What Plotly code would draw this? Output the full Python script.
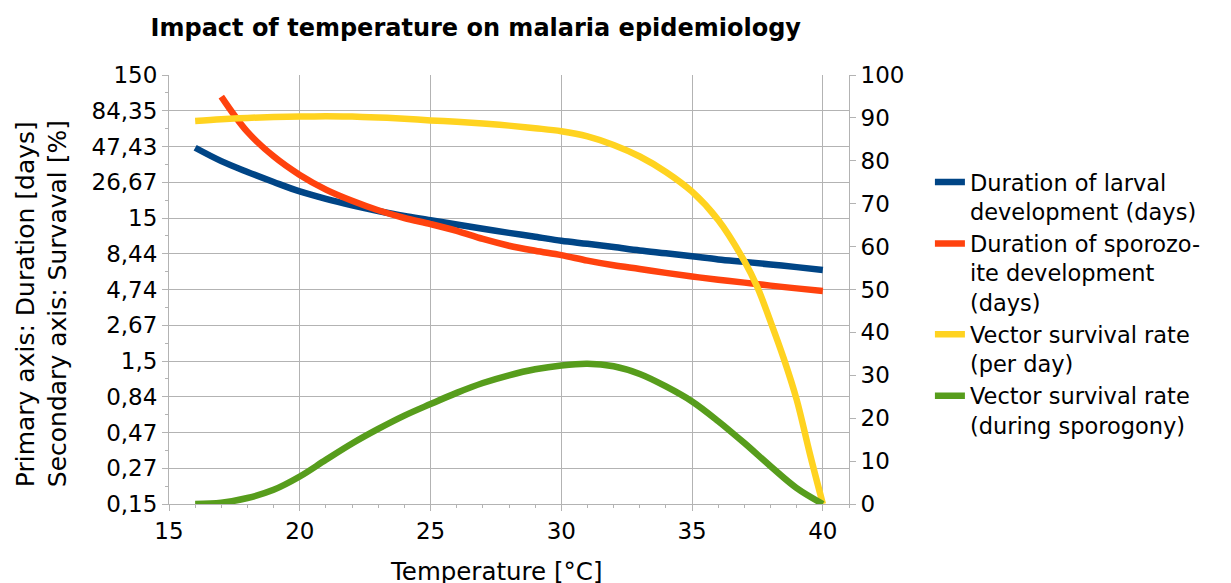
import plotly.graph_objects as go
from plotly.subplots import make_subplots

# temperatures (°C)
temps = list(range(16, 41))
sporo_temps = list(range(17, 41))
surv_temps = list(range(16, 38)) + [37.5, 38, 38.5, 39, 39.5, 40]

# primary axis (log): durations in days
larval_days = [46.5, 37.5, 31.5, 26.8, 23.0, 20.4, 18.4, 16.8, 15.5, 14.5, 13.5, 12.6,
               11.8, 11.1, 10.4, 9.9, 9.4, 8.9, 8.5, 8.1, 7.7, 7.4, 7.1, 6.8, 6.5]
sporo_days = [106, 60, 40.5, 30, 23.7, 19.8, 17.0, 15.0, 13.6, 12.2, 10.7, 9.6,
              8.85, 8.25, 7.55, 7.0, 6.6, 6.2, 5.85, 5.55, 5.3, 5.05, 4.83, 4.63]

# secondary axis: survival in %
surv_per_day = [89.3, 89.7, 90.0, 90.2, 90.3, 90.4, 90.3, 90.1, 89.8, 89.4, 89.1, 88.7,
                88.2, 87.6, 86.9, 85.7, 83.7, 81.0, 77.4, 72.8, 66.2, 56.6,
                50.5, 42.5, 34.0, 24.3, 11.8, 0]
surv_sporogony = [0, 0.3, 1.4, 3.3, 6.4, 10.3, 14.1, 17.5, 20.6, 23.3, 25.9, 28.2,
                  30.0, 31.4, 32.3, 32.7, 32.1, 30.3, 27.4, 23.9, 19.3, 14.2, 8.8, 3.7, 0]

# tick labels of the log axis
log_tickvals = [0.15, 0.2667, 0.4743, 0.8435, 1.5, 2.667, 4.743, 8.435, 15, 26.67, 47.43, 84.35, 150]
log_ticktext = ["0,15", "0,27", "0,47", "0,84", "1,5", "2,67", "4,74", "8,44", "15", "26,67", "47,43", "84,35", "150"]
log_minorvals = [0.2, 0.356, 0.632, 1.125, 2.0, 3.557, 6.325, 11.25, 20.0, 35.57, 63.25, 112.5]

FONT = "DejaVu Sans"
GRID = "#b3b3b3"

fig = make_subplots(specs=[[{"secondary_y": True}]])

fig.add_trace(go.Scatter(x=temps, y=larval_days, mode="lines",
                         name="Duration of larval<br>development (days)",
                         line=dict(color="#004586", width=6.5, shape="spline")),
              secondary_y=False)
fig.add_trace(go.Scatter(x=sporo_temps, y=sporo_days, mode="lines",
                         name="Duration of sporozo-<br>ite development<br>(days)",
                         line=dict(color="#ff420e", width=6.5, shape="spline")),
              secondary_y=False)
fig.add_trace(go.Scatter(x=surv_temps, y=surv_per_day, mode="lines",
                         name="Vector survival rate<br>(per day)",
                         line=dict(color="#ffd320", width=6.5, shape="spline")),
              secondary_y=True)
fig.add_trace(go.Scatter(x=temps, y=surv_sporogony, mode="lines",
                         name="Vector survival rate<br>(during sporogony)",
                         line=dict(color="#579d1c", width=6.5, shape="spline")),
              secondary_y=True)

# the page body adds an 8px offset, so the figure is laid out 8px up/left
fig.update_layout(
    width=1231, height=583,
    margin=dict(l=161, r=390, t=67, b=87, autoexpand=False),
    paper_bgcolor="white", plot_bgcolor="white",
    font=dict(family=FONT, size=23, color="black"),
    title=dict(text="<b>Impact of temperature on malaria epidemiology</b>",
               x=0.380, xanchor="center", y=0.967, yanchor="middle",
               font=dict(family=FONT, size=24, color="black")),
    legend=dict(x=1.119, y=0.80, xanchor="left", yanchor="top", valign="top",
                font=dict(family=FONT, size=22.5), tracegroupgap=0,
                bgcolor="rgba(0,0,0,0)"),
    showlegend=True,
)

fig.update_xaxes(domain=[0, 1], range=[15, 41], tickvals=[15, 20, 25, 30, 35, 40],
                 showgrid=True, gridcolor=GRID, gridwidth=1,
                 showline=True, linecolor=GRID, linewidth=1,
                 ticks="outside", ticklen=6, tickcolor=GRID,
                 minor=dict(dtick=1, ticks="outside", ticklen=3, tickcolor=GRID, showgrid=False),
                 zeroline=False, tickfont=dict(size=23), automargin=False)

fig.update_yaxes(type="log", range=[-0.8239, 2.1761],
                 tickvals=log_tickvals, ticktext=log_ticktext,
                 showgrid=True, gridcolor=GRID, gridwidth=1,
                 showline=True, linecolor=GRID, linewidth=1,
                 ticks="outside", ticklen=6, tickcolor=GRID,
                 minor=dict(tickvals=log_minorvals, ticks="outside", ticklen=3,
                            tickcolor=GRID, showgrid=False),
                 zeroline=False, tickfont=dict(size=23), automargin=False, secondary_y=False)

fig.update_yaxes(range=[0, 100], dtick=10, showgrid=False,
                 showline=True, linecolor=GRID, linewidth=1,
                 ticks="outside", ticklen=6, tickcolor=GRID,
                 zeroline=False, tickfont=dict(size=23), automargin=False, secondary_y=True)

fig.add_annotation(text="Primary axis: Duration [days]<br>Secondary axis: Survaval [%]",
                   xref="paper", yref="paper", x=-0.1868, y=0.468,
                   xanchor="center", yanchor="middle", textangle=-90, align="left",
                   showarrow=False, font=dict(family=FONT, size=25))
fig.add_annotation(text="Temperature [°C]",
                   xref="paper", yref="paper", x=0.4816, y=-0.158,
                   xanchor="center", yanchor="middle",
                   showarrow=False, font=dict(family=FONT, size=24.5))

fig.write_html("out.html")
